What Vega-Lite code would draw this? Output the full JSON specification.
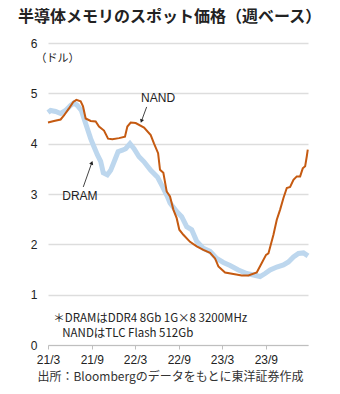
{
  "$schema": "https://vega.github.io/schema/vega-lite/v6.json",
  "width": 260,
  "height": 302,
  "autosize": {"type": "none"},
  "padding": {"left": 48, "top": 43, "right": 32, "bottom": 49},
  "background": "white",
  "config": {"view": {"stroke": null}, "font": "Noto Sans CJK JP"},
  "title": {"text": "半導体メモリのスポット価格（週ベース）", "anchor": "start", "frame": "group", "dx": -30, "fontSize": 16, "fontWeight": "bold", "color": "#222222", "font": "Noto Sans CJK JP", "offset": 12},
  "datasets": {
    "nand": [
      {"d": "2021-03-01", "v": 4.42}, {"d": "2021-03-26", "v": 4.45}, {"d": "2021-04-23", "v": 4.48}, {"d": "2021-05-07", "v": 4.56},
      {"d": "2021-05-28", "v": 4.70}, {"d": "2021-06-15", "v": 4.83}, {"d": "2021-06-28", "v": 4.87}, {"d": "2021-07-16", "v": 4.84},
      {"d": "2021-07-26", "v": 4.74}, {"d": "2021-08-06", "v": 4.50}, {"d": "2021-08-27", "v": 4.45}, {"d": "2021-09-17", "v": 4.44},
      {"d": "2021-10-01", "v": 4.34}, {"d": "2021-10-22", "v": 4.26}, {"d": "2021-11-08", "v": 4.10}, {"d": "2021-11-26", "v": 4.09},
      {"d": "2021-12-24", "v": 4.11}, {"d": "2022-01-18", "v": 4.14}, {"d": "2022-01-28", "v": 4.34}, {"d": "2022-02-11", "v": 4.42},
      {"d": "2022-03-04", "v": 4.41}, {"d": "2022-04-08", "v": 4.32}, {"d": "2022-05-06", "v": 4.17}, {"d": "2022-05-20", "v": 4.00},
      {"d": "2022-06-06", "v": 3.81}, {"d": "2022-06-14", "v": 3.48}, {"d": "2022-06-28", "v": 3.42}, {"d": "2022-07-12", "v": 3.05},
      {"d": "2022-07-26", "v": 2.95}, {"d": "2022-08-09", "v": 2.69}, {"d": "2022-08-23", "v": 2.52}, {"d": "2022-09-03", "v": 2.29},
      {"d": "2022-09-20", "v": 2.19}, {"d": "2022-10-18", "v": 2.05}, {"d": "2022-11-15", "v": 1.96}, {"d": "2022-12-13", "v": 1.89},
      {"d": "2023-01-10", "v": 1.83}, {"d": "2023-01-31", "v": 1.72}, {"d": "2023-02-14", "v": 1.56}, {"d": "2023-03-14", "v": 1.44},
      {"d": "2023-04-18", "v": 1.41}, {"d": "2023-05-23", "v": 1.38}, {"d": "2023-06-20", "v": 1.38}, {"d": "2023-07-25", "v": 1.44},
      {"d": "2023-08-15", "v": 1.63}, {"d": "2023-09-02", "v": 1.79}, {"d": "2023-09-12", "v": 1.82}, {"d": "2023-10-03", "v": 2.19},
      {"d": "2023-10-17", "v": 2.49}, {"d": "2023-10-31", "v": 2.69}, {"d": "2023-11-14", "v": 2.92}, {"d": "2023-11-28", "v": 3.12},
      {"d": "2023-12-12", "v": 3.14}, {"d": "2023-12-26", "v": 3.28}, {"d": "2024-01-09", "v": 3.35}, {"d": "2024-01-23", "v": 3.35},
      {"d": "2024-02-03", "v": 3.51}, {"d": "2024-02-13", "v": 3.55}, {"d": "2024-02-20", "v": 3.75}, {"d": "2024-02-24", "v": 3.88}
    ],
    "dram": [
      {"d": "2021-03-01", "v": 4.62}, {"d": "2021-03-12", "v": 4.66}, {"d": "2021-04-02", "v": 4.64}, {"d": "2021-04-23", "v": 4.60},
      {"d": "2021-05-14", "v": 4.66}, {"d": "2021-06-04", "v": 4.76}, {"d": "2021-06-18", "v": 4.81}, {"d": "2021-07-02", "v": 4.76},
      {"d": "2021-07-19", "v": 4.66}, {"d": "2021-07-30", "v": 4.50}, {"d": "2021-08-13", "v": 4.30}, {"d": "2021-08-27", "v": 4.10},
      {"d": "2021-09-10", "v": 3.94}, {"d": "2021-09-24", "v": 3.78}, {"d": "2021-10-08", "v": 3.65}, {"d": "2021-10-19", "v": 3.42},
      {"d": "2021-11-05", "v": 3.38}, {"d": "2021-11-19", "v": 3.47}, {"d": "2021-12-06", "v": 3.67}, {"d": "2021-12-20", "v": 3.84},
      {"d": "2022-01-07", "v": 3.87}, {"d": "2022-01-21", "v": 3.90}, {"d": "2022-02-08", "v": 4.00}, {"d": "2022-02-25", "v": 3.90},
      {"d": "2022-03-18", "v": 3.74}, {"d": "2022-04-08", "v": 3.64}, {"d": "2022-05-06", "v": 3.47}, {"d": "2022-06-03", "v": 3.34},
      {"d": "2022-06-24", "v": 3.15}, {"d": "2022-07-15", "v": 2.95}, {"d": "2022-07-26", "v": 2.82}, {"d": "2022-08-23", "v": 2.65},
      {"d": "2022-09-13", "v": 2.55}, {"d": "2022-10-04", "v": 2.35}, {"d": "2022-10-25", "v": 2.29}, {"d": "2022-11-15", "v": 2.06},
      {"d": "2022-12-13", "v": 1.92}, {"d": "2023-01-10", "v": 1.86}, {"d": "2023-02-07", "v": 1.72}, {"d": "2023-03-07", "v": 1.64},
      {"d": "2023-04-04", "v": 1.58}, {"d": "2023-05-09", "v": 1.49}, {"d": "2023-06-13", "v": 1.42}, {"d": "2023-07-11", "v": 1.39},
      {"d": "2023-08-08", "v": 1.36}, {"d": "2023-08-29", "v": 1.42}, {"d": "2023-09-19", "v": 1.49}, {"d": "2023-10-17", "v": 1.55},
      {"d": "2023-11-14", "v": 1.59}, {"d": "2023-12-05", "v": 1.65}, {"d": "2023-12-26", "v": 1.75}, {"d": "2024-01-16", "v": 1.82},
      {"d": "2024-02-06", "v": 1.83}, {"d": "2024-02-25", "v": 1.77}
    ],
    "labels": [
      {"d": "2022-06-06", "v": 4.90, "t": "NAND"},
      {"d": "2021-07-13", "v": 2.96, "t": "DRAM"}
    ],
    "arrows": [
      {"d": "2022-04-19", "v": 4.73, "d2": "2022-03-29", "v2": 4.46, "a": 200},
      {"d": "2021-07-27", "v": 3.14, "d2": "2021-08-31", "v2": 3.61, "a": 20}
    ],
    "notes": [
      {"d": "2021-03-23", "v": 0.52, "t": "＊DRAMはDDR4 8Gb 1G×8 3200MHz"},
      {"d": "2021-04-30", "v": 0.22, "t": "NANDはTLC Flash 512Gb"}
    ]
  },
  "encoding": {
    "x": {
      "field": "d", "type": "temporal",
      "scale": {"domain": ["2021-03-01", "2024-02-25"]},
      "axis": {
        "values": [{"year": 2021, "month": 3, "date": 1}, {"year": 2021, "month": 9, "date": 1}, {"year": 2022, "month": 3, "date": 1}, {"year": 2022, "month": 9, "date": 1}, {"year": 2023, "month": 3, "date": 1}, {"year": 2023, "month": 9, "date": 1}],
        "format": "%y/%-m", "grid": false, "domainColor": "#bfbfbf", "tickColor": "#bfbfbf", "tickSize": 4,
        "labelFontSize": 12, "labelColor": "#222222", "labelPadding": 5, "labelDx": -3, "labelFlush": false, "labelFont": "Liberation Sans",
        "title": "出所：Bloombergのデータをもとに東洋証券作成", "titleFontSize": 12, "titleFontWeight": "normal", "titleColor": "#333333",
        "titleX": 122, "titleAlign": "center", "titlePadding": 6
      }
    },
    "y": {
      "field": "v", "type": "quantitative",
      "scale": {"domain": [0, 6]},
      "axis": {
        "values": [0, 1, 2, 3, 4, 5, 6], "grid": true, "gridColor": "#dddddd", "gridWidth": 1.5, "domain": false, "ticks": false,
        "labelFontSize": 12, "labelColor": "#222222", "labelPadding": 11, "labelFont": "Liberation Sans",
        "title": "（ドル）", "titleAngle": 0, "titleX": -13, "titleY": 15, "titleAlign": "left", "titleBaseline": "middle",
        "titleFontSize": 11, "titleFontWeight": "normal", "titleColor": "#222222"
      }
    }
  },
  "layer": [
    {"data": {"name": "dram"}, "mark": {"type": "line", "color": "#bdd7ee", "strokeWidth": 5}},
    {"data": {"name": "nand"}, "mark": {"type": "line", "color": "#c55a11", "strokeWidth": 2}},
    {"data": {"name": "labels"}, "mark": {"type": "text", "fontSize": 12, "color": "#222222", "font": "Liberation Sans"}, "encoding": {"text": {"field": "t"}}},
    {"data": {"name": "arrows"}, "mark": {"type": "rule", "color": "#444444", "strokeWidth": 1}, "encoding": {"x2": {"field": "d2"}, "y2": {"field": "v2"}}},
    {"data": {"name": "arrows"}, "mark": {"type": "point", "shape": "triangle", "filled": true, "color": "#222222", "size": 18, "opacity": 1},
      "encoding": {"x": {"field": "d2", "type": "temporal"}, "y": {"field": "v2", "type": "quantitative"}, "angle": {"field": "a", "type": "quantitative", "scale": null}}},
    {"data": {"name": "notes"}, "mark": {"type": "text", "fontSize": 11.5, "align": "left", "baseline": "middle", "color": "#222222"}, "encoding": {"text": {"field": "t"}}}
  ]
}
